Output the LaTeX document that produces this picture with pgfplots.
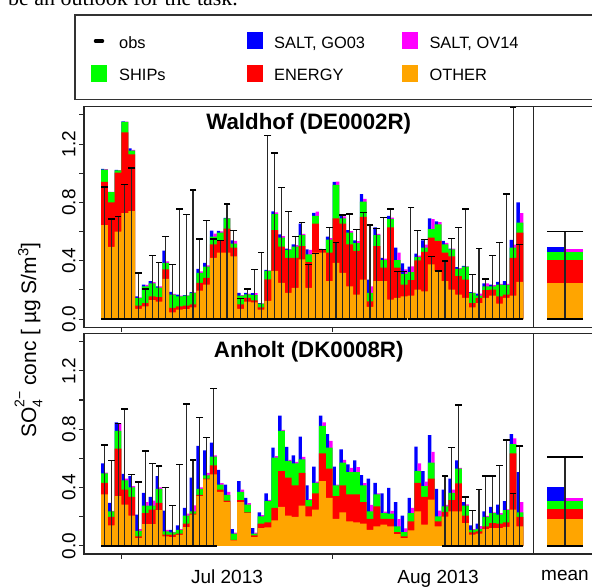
\documentclass[border=0pt]{standalone}
\usepackage{fontspec}
\setmainfont{Liberation Sans}
\newfontfamily\bodyserif{Liberation Serif}
\usepackage{pgfplots}
\usepackage{pgfplotstable}
\pgfplotsset{compat=1.18}
\definecolor{cGO}{RGB}{0,0,255}
\definecolor{cOV}{RGB}{255,0,255}
\definecolor{cShip}{RGB}{0,255,0}
\definecolor{cEnergy}{RGB}{255,0,0}
\definecolor{cOther}{RGB}{255,165,0}

\pgfplotstableread{
d O E S G V obs
0 0.645 0.295 0.085 0.005 0.003 0.905
1 0.495 0.305 0.070 0.003 0.002 0.687
2 0.600 0.405 0.015 0.003 0.002 0.703
3 0.726 0.554 0.072 0.003 0.002 0.924
4 0.740 0.390 0.025 0.015 0.005 1.037
5 0.070 0.022 0.051 0.013 0.005 0.315
6 0.087 0.023 0.115 0.012 0.010 0.205
7 0.130 0.025 0.090 0.015 0.008 0.434
8 0.120 0.030 0.065 0.010 0.010 0.386
9 0.275 0.065 0.045 0.085 0.010 0.566
10 0.046 0.030 0.092 0.018 0.005 0.375
11 0.064 0.023 0.069 0.012 0.005 0.756
12 0.069 0.023 0.068 0.005 0.003 0.717
13 0.080 0.020 0.080 0.005 0.003 0.885
14 0.195 0.053 0.069 0.028 0.010 0.550
15 0.237 0.046 0.076 0.027 0.010 0.678
16 0.420 0.093 0.053 0.040 0.020 0.550
17 0.455 0.081 0.057 0.012 0.008 0.540
18 0.455 0.165 0.070 0.004 0.003 0.790
19 0.430 0.060 0.027 0.023 0.020 0.609
20 0.070 0.030 0.060 0.020 0.005 0.140
21 0.120 0.025 0.025 0.010 0.005 0.207
22 0.115 0.014 0.036 0.013 0.013 0.338
23 0.064 0.016 0.026 0.003 0.002 0.455
24 0.124 0.149 0.057 0.008 0.004 1.257
25 0.330 0.280 0.110 0.018 0.012 1.138
26 0.248 0.249 0.062 0.021 0.010 0.903
27 0.179 0.241 0.055 0.008 0.005 0.736
28 0.214 0.206 0.077 0.016 0.010 0.566
29 0.410 0.090 0.075 0.080 0.010 0.662
30 0.214 0.176 0.054 0.034 0.030 0.375
31 0.455 0.200 0.053 0.020 0.028 0.450
32 0.455 0.018 0.005 0.003 0.002 0.478
33 0.260 0.195 0.090 0.021 0.010 0.628
34 0.386 0.304 0.230 0.020 0.022 0.524
35 0.317 0.338 0.035 0.018 0.015 0.713
36 0.225 0.288 0.080 0.017 0.010 0.720
37 0.168 0.299 0.053 0.020 0.015 0.616
38 0.270 0.430 0.105 0.052 0.020 0.731
39 0.083 0.039 0.058 0.090 0.045 0.644
40 0.260 0.240 0.075 0.053 0.010 0.620
41 0.260 0.092 0.053 0.015 0.010 0.697
42 0.133 0.495 0.057 0.023 0.010 0.754
43 0.145 0.207 0.053 0.085 0.050 0.326
44 0.156 0.081 0.073 0.072 0.030 0.326
45 0.161 0.106 0.055 0.037 0.040 0.766
46 0.202 0.200 0.023 0.023 0.010 0.609
47 0.190 0.270 0.030 0.050 0.020 0.547
48 0.375 0.184 0.057 0.074 0.070 0.428
49 0.329 0.207 0.114 0.020 0.015 0.329
50 0.260 0.195 0.058 0.023 0.010 0.398
51 0.202 0.228 0.048 0.005 0.005 0.552
52 0.168 0.126 0.051 0.011 0.005 0.628
53 0.145 0.125 0.089 0.005 0.003 0.754
54 0.080 0.030 0.069 0.005 0.003 0.306
55 0.110 0.035 0.015 0.015 0.015 0.483
56 0.145 0.053 0.027 0.019 0.020 0.276
57 0.161 0.041 0.023 0.012 0.008 0.437
58 0.106 0.050 0.081 0.018 0.005 0.524
59 0.145 0.023 0.064 0.028 0.010 0.857
60 0.161 0.259 0.070 0.053 0.020 1.450
61 0.255 0.338 0.069 0.138 0.064 0.513
}\waldhof

\pgfplotstableread{
d O E S G V obs
0 0.352 0.080 0.065 0.069 0.005 0.692
1 0.140 0.058 0.039 0.057 0.003 0.587
2 0.340 0.327 0.122 0.057 0.051 0.839
3 0.283 0.103 0.062 0.046 0.012 0.938
4 0.207 0.129 0.064 0.078 0.010 0.490
5 0.053 0.011 0.039 0.111 0.012 0.437
6 0.149 0.076 0.051 0.087 0.024 0.650
7 0.149 0.099 0.028 0.060 0.034 0.563
8 0.244 0.050 0.096 0.088 0.010 0.547
9 0.064 0.012 0.023 0.142 0.011 0.398
10 0.060 0.016 0.016 0.018 0.003 0.277
11 0.075 0.008 0.027 0.030 0.005 0.559
12 0.129 0.023 0.055 0.053 0.013 0.972
13 0.214 0.006 0.017 0.230 0.041 0.589
14 0.340 0.010 0.040 0.295 0.010 0.880
15 0.455 0.005 0.023 0.172 0.017 0.743
16 0.490 0.062 0.059 0.097 0.009 1.080
17 0.370 0.015 0.035 0.100 0.010 nan
18 0.300 0.010 0.040 0.070 0.020 nan
19 0.037 0.003 0.043 0.032 0.007 nan
20 0.300 0.013 0.057 0.074 0.015 nan
21 0.225 0.005 0.053 0.046 0.010 nan
22 0.060 0.011 0.012 0.039 0.007 nan
23 0.122 0.030 0.050 0.028 0.008 nan
24 0.126 0.035 0.145 0.053 0.009 nan
25 0.175 0.085 0.345 0.069 0.010 nan
26 0.267 0.246 0.276 0.103 0.006 nan
27 0.207 0.260 0.115 0.096 0.008 nan
28 0.198 0.216 0.152 0.055 0.009 nan
29 0.276 0.225 0.092 0.156 0.017 nan
30 0.202 0.069 0.042 0.101 0.007 nan
31 0.248 0.111 0.073 0.111 0.008 nan
32 0.444 0.190 0.189 0.069 0.023 nan
33 0.329 0.200 0.145 0.092 0.046 nan
34 0.184 0.156 0.074 0.129 0.006 nan
35 0.230 0.184 0.156 0.092 0.020 nan
36 0.168 0.184 0.154 0.053 0.029 nan
37 0.161 0.191 0.154 0.080 0.034 nan
38 0.152 0.147 0.115 0.071 0.016 nan
39 0.110 0.074 0.053 0.223 0.043 nan
40 0.133 0.138 0.081 0.080 0.008 nan
41 0.145 0.039 0.041 0.134 0.010 nan
42 0.133 0.051 0.037 0.177 0.019 nan
43 0.080 0.014 0.039 0.166 0.050 nan
44 0.053 0.011 0.030 0.113 0.026 nan
45 0.106 0.062 0.057 0.104 0.035 nan
46 0.237 0.195 0.081 0.167 0.053 nan
47 0.145 0.191 0.073 0.104 0.031 nan
48 0.317 0.143 0.110 0.189 0.074 nan
49 0.133 0.035 0.034 0.189 0.040 nan
50 0.200 0.032 0.039 0.115 0.009 0.478
51 0.237 0.076 0.050 0.097 0.022 0.674
52 0.237 0.191 0.101 0.057 0.005 0.966
53 0.156 0.051 0.069 0.023 0.009 0.336
54 0.076 0.016 0.018 0.030 0.005 0.244
55 0.083 0.016 0.018 0.035 0.018 0.386
56 0.115 0.018 0.065 0.039 0.007 0.478
57 0.122 0.034 0.069 0.042 0.005 0.478
58 0.122 0.030 0.062 0.069 0.011 0.552
59 0.130 0.030 0.084 0.062 0.006 0.726
60 0.248 0.386 0.063 0.069 0.039 0.359
61 0.133 0.065 0.032 0.276 0.069 0.685
}\anholt

\pgfplotstableread{
d O E S G V obs
-0.5 0.244 0.161 0.057 0.030 0.018 0.602
}\waldhofmean

\pgfplotstableread{
d O E S G V obs
-0.5 0.184 0.071 0.055 0.095 0.019 0.609
}\anholtmean

\newcommand\stackbars[1]{%
  \addplot[ybar, bar shift=0pt, bar width=0.5, fill=cGO, draw=none]
    table[x expr=\thisrow{d}+0.25, y expr=\thisrow{O}+\thisrow{E}+\thisrow{S}+\thisrow{G}] {#1};
  \addplot[ybar, bar shift=0pt, bar width=0.5, fill=cOV, draw=none]
    table[x expr=\thisrow{d}+0.75, y expr=\thisrow{O}+\thisrow{E}+\thisrow{S}+\thisrow{V}] {#1};
  \addplot[ybar, bar shift=0pt, bar width=1, fill=cShip, draw=none]
    table[x expr=\thisrow{d}+0.5, y expr=\thisrow{O}+\thisrow{E}+\thisrow{S}] {#1};
  \addplot[ybar, bar shift=0pt, bar width=1, fill=cEnergy, draw=none]
    table[x expr=\thisrow{d}+0.5, y expr=\thisrow{O}+\thisrow{E}] {#1};
  \addplot[ybar, bar shift=0pt, bar width=1, fill=cOther, draw=none]
    table[x expr=\thisrow{d}+0.5, y=O] {#1};
}
\newcommand\obsbars[2]{%
  \addplot[black, only marks, mark=-, mark size=#2, mark options={line width=1.4pt, black},
    error bars/.cd, y dir=minus, y explicit, error mark=-,
    error mark options={rotate=90, mark size=#2, line width=1.4pt, black},
    error bar style={line width=1.1pt, black!85}]
    table[x expr=\thisrow{d}+0.5, y=obs, y error minus=obs] {#1};
}

\pgfplotsset{
  basep/.style={scale only axis, anchor=south west, height=220.5pt,
    ymin=-0.056, ymax=1.456,
    axis line style={line width=1.1pt, black!85},
    tick align=outside, tick pos=left, major tick length=5pt,
    tick style={line width=1.1pt, black!85},
    tick label style={font=\fontsize{19}{19}\selectfont},
    xticklabel style={yshift=-7.5pt},
  },
  mainp/.style={basep, width=449.5pt, xmin=-2.5, xmax=63.5, xtick={3,34},
    xticklabels={},
    ytick={0,0.2,0.4,0.6,0.8,1.0,1.2,1.4},
    yticklabels={0.0,,0.4,,0.8,,1.2,},
    yticklabel style={rotate=90, anchor=south},
  },
  meanp/.style={basep, width=63pt, xmin=-0.875, xmax=0.875, ytick=\empty,
    xtick={0}, xtick style={draw=none}},
}

\begin{document}
\begin{tikzpicture}
\useasboundingbox (0pt,0pt) rectangle (592pt,588pt);
\clip (0pt,0pt) rectangle (592pt,588pt);

% fragment of the running text above the figure
\node[anchor=base west, inner sep=0, font=\bodyserif\fontsize{22}{24}\selectfont] at (8pt,582pt) {be an outlook for the task.};

% legend
\draw[line width=1.2pt, black!80] (75pt,488.7pt) rectangle (650pt,573pt);
\begin{scope}[every node/.style={anchor=base west, inner sep=0, font=\fontsize{16.4}{17}\selectfont}]
\draw[line width=3.5pt, line cap=round] (95.5pt,547pt) -- (102.5pt,547pt);
\node at (119pt,539.5pt) {obs};
\fill[cGO] (246.7pt,539pt) rectangle (262.7pt,555.5pt);
\node at (274pt,539.5pt) {SALT, GO03};
\fill[cOV] (401.7pt,539pt) rectangle (417.7pt,555.5pt);
\node at (429.3pt,539.5pt) {SALT, OV14};
\fill[cShip] (91pt,506.3pt) rectangle (107pt,523pt);
\node at (119pt,507pt) {SHIPs};
\fill[cEnergy] (246.7pt,506.3pt) rectangle (262.7pt,523pt);
\node at (274pt,507pt) {ENERGY};
\fill[cOther] (401.7pt,506.3pt) rectangle (417.7pt,523pt);
\node at (429.3pt,507pt) {OTHER};
\end{scope}

% upper panel: Waldhof
\begin{axis}[mainp, at={(84pt,260.75pt)}]
\stackbars{\waldhof}
\obsbars{\waldhof}{3.4pt}
\end{axis}
\begin{axis}[meanp, at={(533.5pt,260.75pt)}, xticklabels={}]
\stackbars{\waldhofmean}
\obsbars{\waldhofmean}{18pt}
\end{axis}

% lower panel: Anholt
\begin{axis}[mainp, at={(84pt,34pt)},
  extra x ticks={18.5,49.5}, extra x tick labels={Jul 2013, Aug 2013},
  extra x tick style={tick style={draw=none}}]
\stackbars{\anholt}
\obsbars{\anholt}{3.4pt}
\end{axis}
\begin{axis}[meanp, at={(533.5pt,34pt)}, xticklabels={mean}]
\stackbars{\anholtmean}
\obsbars{\anholtmean}{18pt}
\end{axis}

\node[anchor=base, inner sep=0, font=\bfseries\fontsize{22.3}{23}\selectfont] at (308.75pt,458pt) {Waldhof (DE0002R)};
\node[anchor=base, inner sep=0, font=\bfseries\fontsize{22.3}{23}\selectfont] at (308.75pt,230pt) {Anholt (DK0008R)};

\node[rotate=90, anchor=base, inner sep=0, font=\fontsize{21}{21}\selectfont] at (36pt,248pt)
  {SO\rlap{\raisebox{-0.3em}{\fontsize{14}{14}\selectfont 4}}\raisebox{0.55em}{\fontsize{14}{14}\selectfont 2−} conc [ µg S/m\textsuperscript{3}]};
\end{tikzpicture}
\end{document}
